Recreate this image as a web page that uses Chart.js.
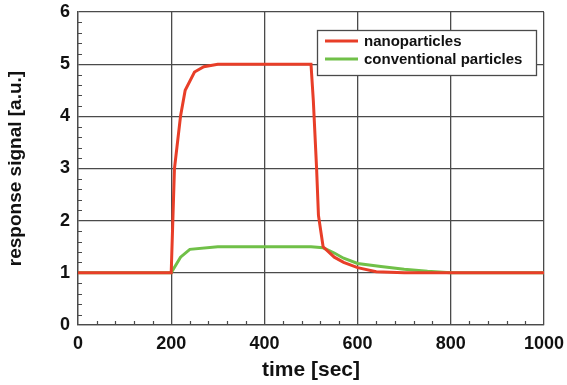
<!DOCTYPE html>
<html>
<head>
  <title>Response signal</title>
  <meta name="viewport" content="width=device-width, initial-scale=1">
  <style>
    body { margin: 0; background: #fff; }
    #wrap { width: 567px; height: 385px; }
  </style>
</head>
<body>
  <div id="wrap"><canvas id="myChart"></canvas></div>
  <script src="https://cdn.jsdelivr.net/npm/chart.js"></script>
  <script>
    // values
    var nanoTime  = [0, 200, 207, 220, 230, 250, 270, 300, 500, 505, 512, 516, 526, 550, 570, 600, 640, 700, 800, 1000];
    var nanoValue = [1, 1, 3.0, 4.0, 4.5, 4.85, 4.95, 5, 5, 4.3, 3.0, 2.1, 1.5, 1.3, 1.2, 1.1, 1.02, 1, 1, 1];
    var convTime  = [0, 200, 220, 240, 300, 500, 526, 550, 570, 600, 650, 700, 750, 800, 1000];
    var convValue = [1, 1, 1.3, 1.45, 1.5, 1.5, 1.48, 1.38, 1.28, 1.18, 1.12, 1.07, 1.03, 1, 1];
    var seriesNames = ['nanoparticles', 'conventional particles'];
    var xTicks = [0, 200, 400, 600, 800, 1000];
    var yTicks = [0, 1, 2, 3, 4, 5, 6];

    var FONT = "'Liberation Sans', Arial, Helvetica, sans-serif";
    var GRID = '#4a4a4a';

    function pairs(xs, ys) {
      return xs.map(function (x, i) { return { x: x, y: ys[i] }; });
    }

    // small inward ticks between the grid lines
    var minorTicks = {
      id: 'minorTicks',
      beforeDatasetsDraw: function (chart) {
        var ctx = chart.ctx, a = chart.chartArea;
        var xs = chart.scales.x, ys = chart.scales.y;
        ctx.save();
        ctx.strokeStyle = GRID;
        ctx.lineWidth = 1.2;
        ctx.beginPath();
        for (var v = ys.min; v <= ys.max + 1e-9; v += 0.2) {
          if (Math.abs(v - Math.round(v)) < 1e-6) continue;
          var py = Math.round(ys.getPixelForValue(v)) + 0.5;
          ctx.moveTo(a.left, py); ctx.lineTo(a.left + 4, py);
        }
        for (var t = xs.min; t <= xs.max; t += 40) {
          if (t % 200 === 0) continue;
          var px = Math.round(xs.getPixelForValue(t)) + 0.5;
          ctx.moveTo(px, a.bottom); ctx.lineTo(px, a.bottom - 4);
        }
        ctx.stroke();
        ctx.restore();
      }
    };

    // framed legend inside the plot, top right
    var boxLegend = {
      id: 'boxLegend',
      afterDatasetsDraw: function (chart) {
        var ctx = chart.ctx, a = chart.chartArea;
        var w = 219, h = 45;
        var x0 = a.right - 8 - w, y0 = a.top + 18;
        ctx.save();
        ctx.fillStyle = '#fff';
        ctx.fillRect(x0, y0, w, h);
        ctx.strokeStyle = GRID;
        ctx.lineWidth = 1.3;
        ctx.strokeRect(x0 + 0.5, y0 + 0.5, w, h);
        ctx.font = 'bold 15px ' + FONT;
        ctx.textBaseline = 'middle';
        chart.data.datasets.forEach(function (ds, i) {
          var yy = y0 + 11 + i * 18;
          ctx.strokeStyle = ds.borderColor;
          ctx.lineWidth = 3;
          ctx.beginPath();
          ctx.moveTo(x0 + 8, yy); ctx.lineTo(x0 + 41, yy);
          ctx.stroke();
          ctx.fillStyle = '#111';
          ctx.fillText(ds.label, x0 + 47, yy + 1);
        });
        ctx.restore();
      }
    };

    var ctx = document.getElementById('myChart');
    var chart = new Chart(ctx, {
      type: 'line',
      data: {
        datasets: [{
          label: seriesNames[0],
          data: pairs(nanoTime, nanoValue),
          borderColor: 'rgb(232, 62, 40)',
          borderWidth: 3,
          pointRadius: 0,
          tension: 0
        }, {
          label: seriesNames[1],
          data: pairs(convTime, convValue),
          borderColor: 'rgb(112, 192, 72)',
          borderWidth: 3,
          pointRadius: 0,
          tension: 0
        }]
      },
      options: {
        responsive: true,
        maintainAspectRatio: false,
        animation: false,
        layout: { padding: { top: 12, right: 23, left: 0, bottom: 0 } },
        plugins: { legend: { display: false }, tooltip: { enabled: false } },
        scales: {
          x: {
            type: 'linear',
            min: 0, max: 1000,
            afterBuildTicks: function (s) { s.ticks = xTicks.map(function (v) { return { value: v }; }); },
            afterFit: function (s) { s.height = 60; s.paddingLeft = 0; s.paddingRight = 0; },
            grid: { color: GRID, lineWidth: 1.3, drawTicks: false },
            border: { color: GRID, width: 1.3 },
            ticks: { padding: 8, color: '#111', font: { family: FONT, size: 18, weight: 'bold' },
                     callback: function (v) { return String(v); } },
            title: { display: true, text: 'time [sec]', color: '#111', padding: { top: 0, bottom: 2 },
                     font: { family: FONT, size: 21, weight: 'bold' } }
          },
          y: {
            min: 0, max: 6,
            afterBuildTicks: function (s) { s.ticks = yTicks.map(function (v) { return { value: v }; }); },
            afterFit: function (s) { s.width = 78; s.paddingTop = 0; s.paddingBottom = 0; },
            grid: { color: GRID, lineWidth: 1.3, drawTicks: false },
            border: { color: GRID, width: 1.3 },
            ticks: { padding: 8, color: '#111', font: { family: FONT, size: 18, weight: 'bold' } },
            title: { display: true, text: 'response signal [a.u.]', color: '#111', padding: { top: 4, bottom: 0 },
                     font: { family: FONT, size: 19, weight: 'bold' } }
          }
        }
      },
      plugins: [minorTicks, boxLegend]
    });
  </script>
</body>
</html>
